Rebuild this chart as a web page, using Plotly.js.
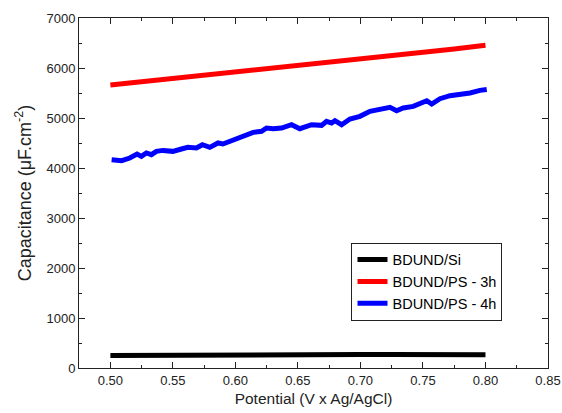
<!DOCTYPE html>
<html>
<head>
<meta charset="utf-8">
<script src="https://cdn.plot.ly/plotly-3.0.1.min.js"></script>
<style>html,body{margin:0;padding:0;background:#fff;}#chart{width:562px;height:413px;}</style>
</head>
<body>
<div id="chart"></div>
<script>
// Black series: BDUND/Si
const siX = [0.500, 0.525, 0.550, 0.575, 0.600, 0.625, 0.650, 0.675, 0.700, 0.725, 0.750, 0.775, 0.800];
const siY = [250, 255, 260, 265, 270, 275, 275, 272, 270, 268, 266, 265, 265];

// Red series: BDUND/PS - 3h
const ps3X = [0.500, 0.525, 0.550, 0.575, 0.600, 0.625, 0.650, 0.675, 0.700, 0.725, 0.750, 0.775, 0.800];
const ps3Y = [5660, 5725, 5790, 5860, 5930, 5990, 6040, 6100, 6165, 6230, 6300, 6380, 6455];

// Blue series: BDUND/PS - 4h
const ps4X = [0.501, 0.509, 0.5155, 0.5213, 0.5248, 0.5288, 0.5328, 0.5368, 0.542, 0.550, 0.5568, 0.562, 0.5688, 0.5736, 0.5795, 0.5861, 0.590, 0.5955, 0.601, 0.6062, 0.6142, 0.6209, 0.6249, 0.6302, 0.6369, 0.6449, 0.6515, 0.6609, 0.6689, 0.6729, 0.6769, 0.6796, 0.6849, 0.6916, 0.6996, 0.7076, 0.7156, 0.7236, 0.7289, 0.7342, 0.7422, 0.749, 0.753, 0.757, 0.7636, 0.7716, 0.7796, 0.7876, 0.7956, 0.801];
const ps4Y = [4166, 4146, 4200, 4280, 4232, 4300, 4266, 4333, 4352, 4333, 4380, 4413, 4400, 4466, 4413, 4500, 4480, 4533, 4580, 4653, 4713, 4733, 4800, 4786, 4800, 4866, 4786, 4866, 4853, 4933, 4900, 4946, 4866, 4980, 5033, 5133, 5180, 5213, 5146, 5200, 5233, 5300, 5346, 5280, 5386, 5446, 5466, 5500, 5553, 5570];

const seriesNames = ["BDUND/Si", "BDUND/PS - 3h", "BDUND/PS - 4h"];
const seriesColors = ["#000000", "#ff0000", "#0000ff"];

const xTickVals = [0.50, 0.55, 0.60, 0.65, 0.70, 0.75, 0.80, 0.85];
const xTickText = ["0.50", "0.55", "0.60", "0.65", "0.70", "0.75", "0.80", "0.85"];
const yTickVals = [0, 1000, 2000, 3000, 4000, 5000, 6000, 7000];
const yTickText = ["0", "1000", "2000", "3000", "4000", "5000", "6000", "7000"];

const xs = [siX, ps3X, ps4X];
const ys = [siY, ps3Y, ps4Y];

const traces = seriesNames.map((n, i) => ({
  x: xs[i], y: ys[i], name: n, type: 'scatter', mode: 'lines',
  line: {color: seriesColors[i], width: 5}
}));

const font = {family: 'Arial, "Liberation Sans", sans-serif', color: '#222', size: 13};

const axisCommon = {
  showline: true, linecolor: '#222', linewidth: 1, mirror: 'allticks',
  ticks: 'inside', ticklen: 6, tickwidth: 1, tickcolor: '#222',
  showgrid: false, zeroline: false, tickfont: {size: 13, color: '#222'}
};

const layout = {
  width: 562, height: 413,
  margin: {l: 79, r: 14, t: 18, b: 45},
  paper_bgcolor: '#fff', plot_bgcolor: '#fff',
  font: font,
  showlegend: true,
  legend: {
    x: 0.581, y: 0.358, xanchor: 'left', yanchor: 'top',
    bordercolor: '#222', borderwidth: 1, bgcolor: '#fff',
    font: {size: 14.5, color: '#000'}, tracegroupgap: 0, itemwidth: 30
  },
  xaxis: Object.assign({}, axisCommon, {
    range: [0.4749, 0.85], tickmode: 'array', tickvals: xTickVals, ticktext: xTickText,
    minor: {ticks: 'inside', ticklen: 3, tickwidth: 1, tickcolor: '#222', dtick: 0.025, tick0: 0.5},
    title: {text: 'Potential (V x Ag/AgCl)', font: {size: 15.5, color: '#222'}, standoff: 6}
  }),
  yaxis: Object.assign({}, axisCommon, {
    range: [0, 7000], tickmode: 'array', tickvals: yTickVals, ticktext: yTickText,
    minor: {ticks: 'inside', ticklen: 3, tickwidth: 1, tickcolor: '#222', dtick: 500, tick0: 0},
    title: {text: 'Capacitance (μF.cm<sup>-2</sup>)', font: {size: 18, color: '#222'}, standoff: 10}
  })
};

Plotly.newPlot('chart', traces, layout, {staticPlot: true, displayModeBar: false});
</script>
</body>
</html>
